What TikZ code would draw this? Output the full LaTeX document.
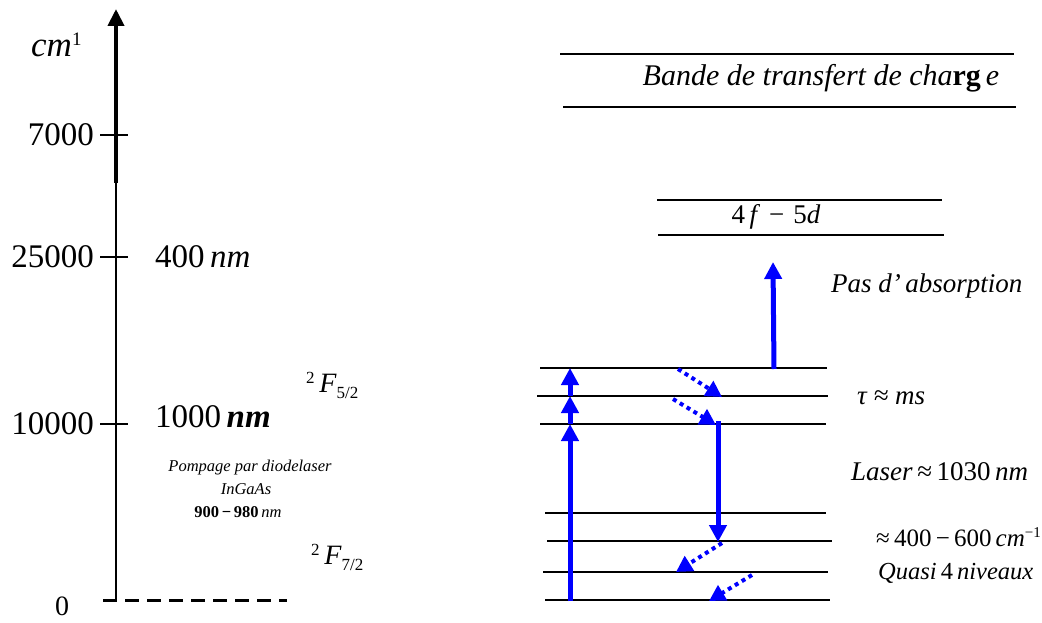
\documentclass[tikz,border=0pt]{standalone}
\usepackage{fontspec}
\setmainfont{Liberation Serif}
\usetikzlibrary{arrows.meta}
\begin{document}
\begin{tikzpicture}[x=1pt,y=-1pt,
 lvl/.style={line width=1.4pt},
 tickmark/.style={line width=1.5pt},
 bluearrow/.style={draw=blue, line width=5pt, -{Triangle[length=17pt,width=17pt]}},
 dotarrow/.style={draw=blue, line width=4pt, dash pattern=on 4pt off 4pt, -{Triangle[length=16pt,width=17pt]}},
 lab/.style={inner sep=0pt, font=\fontsize{33}{36}\selectfont},
 rlab/.style={inner sep=0pt, font=\fontsize{27}{30}\selectfont\itshape},
 small/.style={inner sep=0pt, font=\fontsize{16.5}{18}\selectfont\itshape},
]
\useasboundingbox (0,0) rectangle (1042,623);
% ---- axis
\coordinate (ax0) at (116,600);
\coordinate (axm) at (116,183);
\coordinate (axt) at (116,9);
\draw[line width=2pt] (ax0) -- (axm);
\draw[line width=4pt,-{Triangle[length=17pt,width=16pt]}] (axm) -- (axt);
\node[inner sep=0pt, font=\fontsize{35}{38}\selectfont\itshape, anchor=base west] (unit) at (31,57) {cm\raisebox{11pt}{\fontsize{19}{20}\selectfont\upshape 1}};
\foreach \yy/\tx/\nm in {135/7000/a, 257/25000/b, 424/10000/c}{
  \coordinate (tl\nm) at (100,\yy);
  \coordinate (tr\nm) at (128,\yy);
  \draw[tickmark] (tl\nm) -- (tr\nm);
  \node[lab, anchor=east] (lab\nm) at (94,\yy) {\tx};
}
\node[inner sep=0pt, font=\fontsize{28}{30}\selectfont, anchor=base] (zero) at (62,615) {0};
\coordinate (d0) at (103,600);
\coordinate (d1) at (287,600);
\draw[line width=3pt, dash pattern=on 14pt off 8pt] (d0) -- (d1);
\node[lab, anchor=west] (n400) at (155,257) {400\,\textit{nm}};
\node[lab, anchor=west] (n1000) at (155,417) {1000\,\textbf{\textit{nm}}};
\node[inner sep=0pt, font=\fontsize{28}{30}\selectfont, anchor=base west] (F52) at (306,392) {\raisebox{9pt}{\fontsize{17}{18}\selectfont 2}\,\textit{F}\raisebox{-6pt}{\fontsize{17}{18}\selectfont 5/2}};
\node[inner sep=0pt, font=\fontsize{28}{30}\selectfont, anchor=base west] (F72) at (311,564) {\raisebox{9pt}{\fontsize{17}{18}\selectfont 2}\,\textit{F}\raisebox{-6pt}{\fontsize{17}{18}\selectfont 7/2}};
\node[small] (pomp1) at (250,468) {Pompage par diodelaser};
\node[small] (pomp2) at (246,489) {InGaAs};
\node[inner sep=0pt, font=\fontsize{16.5}{18}\selectfont] (pomp3) at (238,512) {\textbf{900\,−\,980}\,\textit{nm}};
% ---- right: bands
\draw[lvl] (560,54) -- (1014,54);
\draw[lvl] (563,107) -- (1016,107);
\node[inner sep=0pt, font=\fontsize{30}{32}\selectfont] (bande) at (821,78) {\textit{Bande de transfert de cha}\textbf{rg}\,\textit{e}};
\draw[lvl] (657,200) -- (942,200);
\draw[lvl] (658,235) -- (944,235);
\node[inner sep=0pt, font=\fontsize{27}{30}\selectfont] (fd) at (776,217) {4\,\textit{f}\,\,−\,\,5\textit{d}};
% ---- levels
\draw[lvl] (540,368) -- (827,368);
\draw[lvl] (537,396) -- (828,396);
\draw[lvl] (540,424) -- (826,424);
\draw[lvl] (545,513) -- (826,513);
\draw[lvl] (547,541) -- (832,541);
\draw[lvl] (543,572) -- (828,572);
\draw[lvl] (545,600) -- (830,600);
% ---- arrows
\coordinate (p0) at (570,601);
\coordinate (p1) at (570,424);
\coordinate (p2) at (570,396);
\coordinate (p3) at (570,368);
\draw[bluearrow] (p0) -- (p1);
\draw[bluearrow] (p1) -- (p2);
\draw[bluearrow] (p2) -- (p3);
\coordinate (q0) at (678,369);
\coordinate (q1) at (722,397);
\coordinate (q2) at (673,399);
\coordinate (q3) at (716,425);
\draw[dotarrow] (q0) -- (q1);
\draw[dotarrow] (q2) -- (q3);
\coordinate (l0) at (718,421);
\coordinate (l1) at (718,542);
\draw[bluearrow] (l0) -- (l1);
\coordinate (r0) at (722,543);
\coordinate (r1) at (676,572);
\coordinate (r2) at (752,575);
\coordinate (r3) at (709,601);
\draw[dotarrow] (r0) -- (r1);
\draw[dotarrow] (r2) -- (r3);
\coordinate (s0) at (774,369);
\coordinate (s1) at (773,262);
\draw[bluearrow] (s0) -- (s1);
% ---- right labels
\node[rlab, anchor=west] (pas) at (831,286) {Pas d'\,absorption};
\node[rlab, anchor=west] (tau) at (857,398) {τ ≈ ms};
\node[inner sep=0pt, font=\fontsize{27}{30}\selectfont, anchor=west] (laser) at (851,472) {\textit{Laser}\,≈\,1030\,\textit{nm}};
\node[inner sep=0pt, font=\fontsize{25}{30}\selectfont, anchor=west] (cm) at (876,537) {≈\,400\,−\,600\,\textit{cm}\raisebox{9pt}{\fontsize{15}{18}\selectfont −1}};
\node[inner sep=0pt, font=\fontsize{24.5}{30}\selectfont, anchor=west] (quasi) at (878,573) {\textit{Quasi}\,4\,\textit{niveaux}};
\end{tikzpicture}
\end{document}
